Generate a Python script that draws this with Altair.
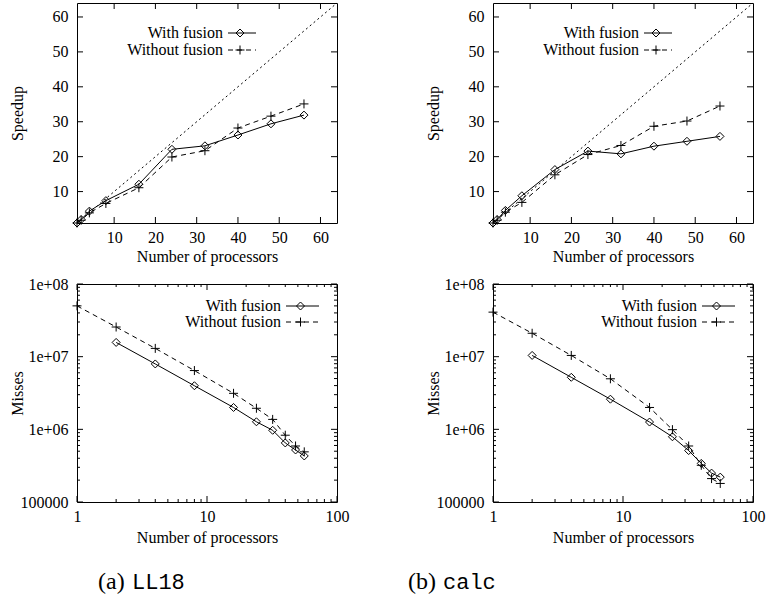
import altair as alt
import pandas as pd

# ---------------- data ----------------
procs = [1, 2, 4, 8, 16, 24, 32, 40, 48, 56]
ll18_speedup_with = [1.0, 2.0, 4.4, 7.4, 12.1, 22.1, 23.1, 26.2, 29.4, 31.9]
ll18_speedup_without = [1.0, 1.8, 3.9, 6.6, 11.1, 19.9, 21.7, 28.2, 31.6, 35.1]
calc_speedup_with = [1.0, 2.0, 4.6, 8.8, 16.3, 21.6, 20.8, 23.0, 24.4, 25.8]
calc_speedup_without = [1.0, 1.8, 4.1, 6.9, 14.8, 20.6, 23.2, 28.7, 30.2, 34.5]

miss_procs_with = [2, 4, 8, 16, 24, 32, 40, 48, 56]
miss_procs_without = [1, 2, 4, 8, 16, 24, 32, 40, 48, 56]
ll18_miss_with = [1.57e7, 7.94e6, 3.98e6, 2.0e6, 1.27e6, 9.7e5, 6.5e5, 5.2e5, 4.3e5]
ll18_miss_without = [5.0e7, 2.56e7, 1.3e7, 6.44e6, 3.13e6, 1.95e6, 1.37e6, 8.3e5, 5.9e5, 4.9e5]
calc_miss_with = [1.04e7, 5.2e6, 2.6e6, 1.26e6, 7.9e5, 5.1e5, 3.4e5, 2.5e5, 2.2e5]
calc_miss_without = [4.1e7, 2.1e7, 1.04e7, 4.96e6, 2.0e6, 9.9e5, 5.9e5, 3.2e5, 2.1e5, 1.8e5]

ideal_x = [1, 64]
ideal_y = [1, 64]

speed_ticks = [10, 20, 30, 40, 50, 60]
log_x_major = [1, 10, 100]
log_x_minor = [2, 3, 4, 5, 6, 7, 8, 9, 20, 30, 40, 50, 60, 70, 80, 90]
log_y_major = [1e5, 1e6, 1e7, 1e8]
log_y_minor = [2e5, 3e5, 4e5, 5e5, 6e5, 7e5, 8e5, 9e5,
               2e6, 3e6, 4e6, 5e6, 6e6, 7e6, 8e6, 9e6,
               2e7, 3e7, 4e7, 5e7, 6e7, 7e7, 8e7, 9e7]

legend_labels = ["With fusion", "Without fusion"]

# ---------------- style ----------------
FONT = "Liberation Serif"
MONO = "Liberation Mono"
PLUS = "M-1,0L1,0M0,-1L0,1"
W = 260
H_TOP = 220
H_BOT = 218
MAJ = 6
MIN = 3


def tick_layers(X, Y, xs_major, xs_minor, ys_major, ys_minor, H):
    layers = []
    for vals, size in ((xs_major, MAJ), (xs_minor, MIN)):
        if not vals:
            continue
        d = pd.DataFrame({"x": vals})
        for pos in (size / 2, H - size / 2):
            layers.append(
                alt.Chart(d).mark_tick(color="black", thickness=1, size=size, opacity=1)
                .encode(x=X, y=alt.value(pos))
            )
    for vals, size in ((ys_major, MAJ), (ys_minor, MIN)):
        if not vals:
            continue
        d = pd.DataFrame({"y": vals})
        for pos in (size / 2, W - size / 2):
            layers.append(
                alt.Chart(d).mark_tick(color="black", thickness=1, size=size, opacity=1)
                .encode(y=Y, x=alt.value(pos))
            )
    return layers


def legend_layers(text_x, line_x1, line_x2, y1, y2):
    d1 = pd.DataFrame({"t": [legend_labels[0]]})
    d2 = pd.DataFrame({"t": [legend_labels[1]]})
    mid = (line_x1 + line_x2) / 2 - 2
    out = []
    for d, yy, dash, shape, sz in ((d1, y1, [1, 0], "diamond", 64), (d2, y2, [5, 4], PLUS, 81)):
        out.append(alt.Chart(d).mark_text(font=FONT, fontSize=16, align="right", baseline="middle", color="black")
                   .encode(text="t:N", x=alt.value(text_x), y=alt.value(yy)))
        out.append(alt.Chart(d).mark_rule(color="black", strokeWidth=1, strokeDash=dash)
                   .encode(x=alt.value(line_x1), x2=alt.value(line_x2), y=alt.value(yy)))
        out.append(alt.Chart(d).mark_point(shape=shape, filled=False, size=sz, color="black", strokeWidth=1, opacity=1)
                   .encode(x=alt.value(mid), y=alt.value(yy)))
    return out


def caption_layers(paren, word, x_paren, x_word, y):
    dp = pd.DataFrame({"t": [paren]})
    dw = pd.DataFrame({"t": [word]})
    return [
        alt.Chart(dp).mark_text(font=FONT, fontSize=24, align="left", baseline="alphabetic", color="black")
        .encode(text="t:N", x=alt.value(x_paren), y=alt.value(y)),
        alt.Chart(dw).mark_text(font=MONO, fontSize=22, align="left", baseline="alphabetic", color="black")
        .encode(text="t:N", x=alt.value(x_word), y=alt.value(y)),
    ]


def series_layers(X, Y, xs_with, ys_with, xs_without, ys_without):
    dw = pd.DataFrame({"x": xs_with, "y": ys_with})
    dwo = pd.DataFrame({"x": xs_without, "y": ys_without})
    return [
        alt.Chart(dwo).mark_line(color="black", strokeWidth=1, strokeDash=[5, 4]).encode(x=X, y=Y),
        alt.Chart(dw).mark_line(color="black", strokeWidth=1).encode(x=X, y=Y),
        alt.Chart(dw).mark_point(shape="diamond", filled=False, size=64, color="black", strokeWidth=1, opacity=1)
        .encode(x=X, y=Y),
        alt.Chart(dwo).mark_point(shape=PLUS, filled=False, size=81, color="black", strokeWidth=1, opacity=1)
        .encode(x=X, y=Y),
    ]


def speed_panel(s_with, s_without):
    xaxis = alt.Axis(values=speed_ticks, title="Number of processors", ticks=False, domain=False, grid=False,
                     labelPadding=6, labelFlush=False, labelOverlap=False,
                     titleX=W / 2, titleY=33, titleBaseline="middle", titleAlign="center")
    yaxis = alt.Axis(values=speed_ticks, title="Speedup", ticks=False, domain=False, grid=False,
                     labelPadding=9, labelOverlap=False,
                     titleX=-60, titleY=H_TOP / 2, titleAngle=270, titleBaseline="middle", titleAlign="center")
    X = alt.X("x:Q", scale=alt.Scale(domain=[1, 64], nice=False, zero=False), axis=xaxis)
    Y = alt.Y("y:Q", scale=alt.Scale(domain=[1, 64], nice=False, zero=False), axis=yaxis)
    dideal = pd.DataFrame({"x": ideal_x, "y": ideal_y})
    layers = [alt.Chart(dideal).mark_line(color="black", strokeWidth=1, strokeDash=[2, 3]).encode(x=X, y=Y)]
    layers += series_layers(X, Y, procs, s_with, procs, s_without)
    layers += tick_layers(X, Y, speed_ticks, [], speed_ticks, [], H_TOP)
    layers += legend_layers(146, 151, 179, 30, 47)
    return alt.layer(*layers).properties(width=W, height=H_TOP)


def miss_panel(m_with, m_without, paren, word, xp, xw):
    xaxis = alt.Axis(values=log_x_major, title="Number of processors", ticks=False, domain=False, grid=False,
                     labelPadding=6, labelFlush=False, labelOverlap=False, format="d",
                     titleX=W / 2, titleY=35, titleBaseline="middle", titleAlign="center")
    yaxis = alt.Axis(values=log_y_major, title="Misses", ticks=False, domain=False, grid=False,
                     labelPadding=9, labelOverlap=False,
                     labelExpr="datum.value >= 1000000 ? '1e+0' + round(log(datum.value) / LN10) : format(datum.value, 'd')",
                     titleX=-60, titleY=H_BOT / 2, titleAngle=270, titleBaseline="middle", titleAlign="center")
    X = alt.X("x:Q", scale=alt.Scale(type="log", domain=[1, 100], nice=False), axis=xaxis)
    Y = alt.Y("y:Q", scale=alt.Scale(type="log", domain=[1e5, 1e8], nice=False), axis=yaxis)
    layers = series_layers(X, Y, miss_procs_with, m_with, miss_procs_without, m_without)
    layers += tick_layers(X, Y, log_x_major, log_x_minor, log_y_major, log_y_minor, H_BOT)
    layers += legend_layers(204, 209, 242, 22, 38)
    layers += caption_layers(paren, word, xp, xw, 305)
    return alt.layer(*layers).properties(width=W, height=H_BOT)


tl = speed_panel(ll18_speedup_with, ll18_speedup_without)
tr = speed_panel(calc_speedup_with, calc_speedup_without)
bl = miss_panel(ll18_miss_with, ll18_miss_without, "(a)", "LL18", 21, 55)
br = miss_panel(calc_miss_with, calc_miss_without, "(b)", "calc", -85, -50)

chart = alt.concat(tl, tr, bl, br, columns=2, spacing={"row": 61, "column": 156}, bounds="flush").properties(
    padding={"left": 8, "top": 0, "right": 0, "bottom": 0},
    background="white",
).configure_view(stroke="black", strokeWidth=1).configure_axis(
    labelFont=FONT, labelFontSize=16, labelColor="black", titleFont=FONT, titleFontSize=16,
    titleColor="black", titleFontWeight="normal"
)

chart.save("out.html", embed_options={"renderer": "svg", "actions": False})
